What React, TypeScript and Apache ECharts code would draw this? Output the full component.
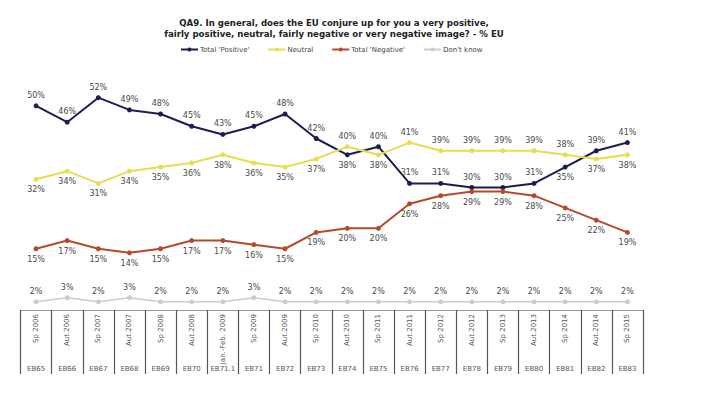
import React, { useEffect, useRef } from "react";
import * as echarts from "echarts";

const periods = [
  "Sp 2006", "Aut.2006", "Sp 2007", "Aut.2007", "Sp 2008", "Aut.2008", "Jan.-Feb. 2009",
  "Sp 2009", "Aut.2009", "Sp 2010", "Aut.2010", "Sp 2011", "Aut.2011", "Sp 2012",
  "Aut.2012", "Sp 2013", "Aut.2013", "Sp 2014", "Aut.2014", "Sp 2015",
];
const waves = [
  "EB65", "EB66", "EB67", "EB68", "EB69", "EB70", "EB71.1", "EB71", "EB72", "EB73",
  "EB74", "EB75", "EB76", "EB77", "EB78", "EB79", "EB80", "EB81", "EB82", "EB83",
];
const positive = [50, 46, 52, 49, 48, 45, 43, 45, 48, 42, 38, 40, 31, 31, 30, 30, 31, 35, 39, 41];
const neutral = [32, 34, 31, 34, 35, 36, 38, 36, 35, 37, 40, 38, 41, 39, 39, 39, 39, 38, 37, 38];
const negative = [15, 17, 15, 14, 15, 17, 17, 16, 15, 19, 20, 20, 26, 28, 29, 29, 28, 25, 22, 19];
const dontKnow = [2, 3, 2, 3, 2, 2, 2, 3, 2, 2, 2, 2, 2, 2, 2, 2, 2, 2, 2, 2];

// label placement (style only)
const positiveBelow = [10, 17];
const neutralAbove = [10, 12, 13, 14, 15, 16, 17];

const labelStyle = {
  show: true,
  formatter: "{c}%",
  fontSize: 8,
  color: "#4a4a4a",
  fontFamily: "DejaVu Sans",
  distance: 4,
};

export default function App() {
  const ref = useRef<HTMLDivElement>(null);
  useEffect(() => {
    if (!ref.current) return;
    const chart = echarts.init(ref.current, undefined, { renderer: "svg" });
    const mk = (
      name: string,
      vals: number[],
      color: string,
      width: number,
      posFn: (i: number) => string
    ) => ({
      name,
      type: "line",
      xAxisIndex: 0,
      data: vals.map((v, i) => ({ value: v, label: { position: posFn(i) } })),
      symbol: "circle",
      symbolSize: 5,
      lineStyle: { color, width },
      itemStyle: { color },
      label: labelStyle,
    });
    chart.setOption({
      animation: false,
      title: {
        text:
          "QA9. In general, does the EU conjure up for you a very positive,\nfairly positive, neutral, fairly negative or very negative image? - % EU",
        left: 329,
        textAlign: "center",
        top: 12,
        textStyle: {
          fontSize: 8.6,
          fontWeight: "bold",
          fontFamily: "DejaVu Sans",
          color: "#222",
          lineHeight: 11,
        },
      },
      legend: {
        top: 41,
        left: 175,
        itemWidth: 17,
        itemHeight: 5,
        itemGap: 18,
        textStyle: { fontSize: 7, fontFamily: "DejaVu Sans", color: "#444", padding: [0, 0, 0, -3] },
        data: ["Total 'Positive'", "Neutral", "Total 'Negative'", "Don't know"],
      },
      grid: { left: 20.5, right: 59, top: 65, bottom: 86 },
      xAxis: [
        {
          type: "category",
          data: periods,
          position: "bottom",
          offset: 0,
          boundaryGap: true,
          axisLine: { show: true, lineStyle: { color: "#999", width: 1 } },
          axisTick: { show: true, length: 64, lineStyle: { color: "#555", width: 1.2 } },
          axisLabel: {
            rotate: 90,
            interval: 0,
            margin: 4,
            fontSize: 7,
            fontFamily: "DejaVu Sans",
            color: "#555",
          },
        },
        {
          type: "category",
          data: waves,
          position: "bottom",
          offset: 0,
          boundaryGap: true,
          axisLine: { show: false },
          axisTick: { show: false },
          axisLabel: {
            interval: 0,
            margin: 55,
            fontSize: 7,
            fontFamily: "DejaVu Sans",
            color: "#555",
          },
        },
      ],
      yAxis: { type: "value", min: 0, max: 60, show: false, splitLine: { show: false } },
      series: [
        mk("Total 'Positive'", positive, "#1c1f4e", 2, (i) => (positiveBelow.includes(i) ? "bottom" : "top")),
        mk("Neutral", neutral, "#e6de4e", 2, (i) => (neutralAbove.includes(i) ? "top" : "bottom")),
        mk("Total 'Negative'", negative, "#b54a2b", 2, () => "bottom"),
        mk("Don't know", dontKnow, "#cccccc", 1.5, () => "top"),
      ],
    });
    return () => chart.dispose();
  }, []);
  return <div ref={ref} style={{ width: 702, height: 396, margin: -8 }} />;
}
